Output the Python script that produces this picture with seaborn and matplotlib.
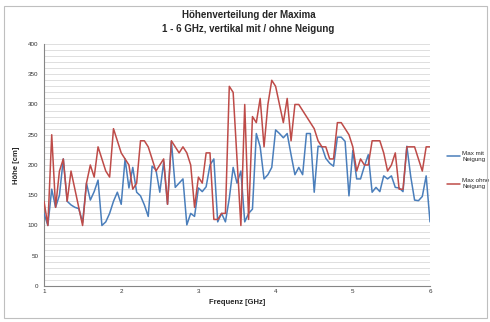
import matplotlib
matplotlib.use("Agg")
import matplotlib.pyplot as plt
import numpy as np
import pandas as pd
import seaborn as sns
from matplotlib.patches import Rectangle

# Frequency grid (GHz), 0.05 GHz steps
freq = np.round(np.arange(1.0, 6.0001, 0.05), 2)

# Max mit Neigung (blue)
max_mit = [120, 100, 160, 130, 150, 210, 140, 134, 130, 128,
           105, 170, 142, 156, 175, 100, 106, 120, 140, 155,
           135, 210, 162, 196, 155, 149, 134, 115, 198, 192,
           155, 205, 135, 239, 163, 170, 177, 101, 120, 115,
           162, 156, 164, 200, 210, 106, 120, 106, 145, 196,
           170, 190, 106, 120, 127, 252, 230, 177, 184, 196,
           258, 252, 245, 252, 217, 184, 196, 184, 252, 252,
           155, 231, 230, 211, 203, 198, 246, 246, 239, 149,
           224, 177, 177, 198, 217, 155, 163, 156, 182, 177,
           182, 163, 162, 156, 231, 181, 142, 141, 148, 182,
           106]

# Max ohne Neigung (red)
max_ohne = [140, 100, 250, 130, 190, 210, 140, 190, 160, 130,
            100, 170, 200, 180, 230, 210, 190, 180, 260, 240,
            220, 210, 200, 160, 170, 240, 240, 230, 210, 190,
            200, 210, 135, 240, 230, 220, 230, 220, 200, 130,
            180, 170, 220, 220, 110, 110, 120, 120, 330, 320,
            210, 100, 300, 110, 280, 270, 310, 230, 300, 340,
            330, 300, 270, 310, 240, 300, 300, 290, 280, 270,
            260, 240, 230, 230, 210, 210, 270, 270, 260, 250,
            230, 190, 210, 200, 200, 240, 240, 240, 220, 190,
            200, 220, 160, 160, 230, 230, 230, 210, 190, 230,
            230]

labels = ["Max mit\nNeigung", "Max ohne\nNeigung"]
colors = ["#4a7ebb", "#be4b48"]

df = pd.DataFrame({"freq": np.concatenate([freq, freq]),
                   "hoehe": max_mit + max_ohne,
                   "serie": [labels[0]] * len(freq) + [labels[1]] * len(freq)})

sns.set_style("white")
plt.rcParams['font.family'] = ['Liberation Sans', 'DejaVu Sans']

fig = plt.figure(figsize=(4.9, 3.22), dpi=100)
ax = fig.add_axes([0.0898, 0.1118, 0.7878, 0.7516])

# horizontal gridlines every 10 cm
for v in range(10, 401, 10):
    ax.axhline(v, color="#d9d9d9", lw=0.6, zorder=0)

sns.lineplot(data=df, x="freq", y="hoehe", hue="serie", palette=colors,
             lw=1.1, ax=ax, zorder=3)

ax.set_xlim(1, 6)
ax.set_ylim(0, 400)
ax.set_xticks([1, 2, 3, 4, 5, 6])
ax.set_yticks(range(0, 401, 50))
ax.tick_params(axis="both", labelsize=4.5, colors="#404040", length=2, width=0.5,
               direction="out", pad=2)
ax.tick_params(axis="both", labelcolor="#333333")
ax.tick_params(axis="x", length=0)
for s in ["top", "right"]:
    ax.spines[s].set_visible(False)
for s in ["left", "bottom"]:
    ax.spines[s].set_color("#868686")
    ax.spines[s].set_linewidth(0.8)

ax.set_xlabel("Frequenz [GHz]", fontsize=5.5, fontweight="bold", labelpad=4)
ax.set_ylabel("Höhe [cm]", fontsize=5.5, fontweight="bold", labelpad=6)

fig.text(0.507, 0.952, "Höhenverteilung der Maxima", ha="center", va="center",
         fontsize=7, fontweight="bold")
fig.text(0.507, 0.910, "1 - 6 GHz, vertikal mit / ohne Neigung", ha="center",
         va="center", fontsize=7, fontweight="bold")

ax.legend(loc="upper left", bbox_to_anchor=(0.905, 0.54), bbox_transform=fig.transFigure,
          frameon=False, fontsize=4.5, handlelength=2.2, handletextpad=0.3,
          labelspacing=2.6, borderpad=0)

fig.patches.append(Rectangle((0.008, 0.012), 0.985, 0.97, transform=fig.transFigure,
                             fill=False, edgecolor="#bfbfbf", lw=0.8))

fig.savefig("out.png", dpi=100)
